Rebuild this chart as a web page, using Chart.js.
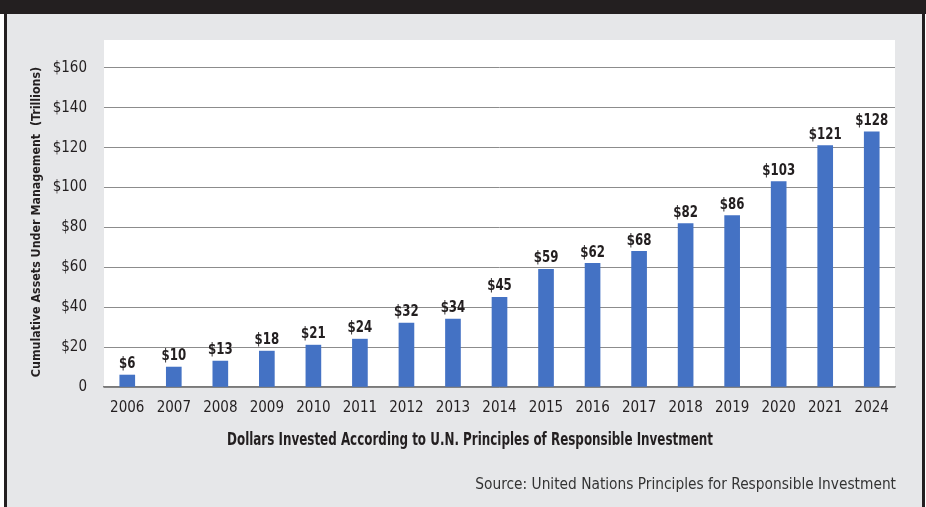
<!DOCTYPE html>
<html>
<head>
<meta charset="utf-8">
<script src="https://cdn.jsdelivr.net/npm/chart.js@4/dist/chart.umd.min.js"></script>
<style>
  body { margin: 0; background: #fff; }
  #wrap { position: relative; width: 926px; height: 507px; background: #e6e7e9; overflow: hidden; }
  .bar { position: absolute; background: #231f20; }
  canvas { position: absolute; left: 0; top: 0; }
</style>
</head>
<body>
<div id="wrap">
  <div class="bar" style="left:0;top:0;width:926px;height:14px"></div>
  <div style="position:absolute;left:0;top:14px;width:4px;height:493px;background:#fff"></div>
  <div class="bar" style="left:4px;top:14px;width:3px;height:493px"></div>
  <div class="bar" style="left:922px;top:14px;width:3px;height:493px"></div>
  <div style="position:absolute;left:925px;top:14px;width:1px;height:493px;background:#fff"></div>
  <canvas id="chart" width="926" height="507"></canvas>
</div>
<script>
// values
const years = ['2006', '2007', '2008', '2009', '2010', '2011', '2012', '2013', '2014',
  '2015', '2016', '2017', '2018', '2019', '2020', '2021', '2024'];
const assets = [6, 10, 13, 18, 21, 24, 32, 34, 45, 59, 62, 68, 82, 86, 103, 121, 128];
const yTicks = [0, 20, 40, 60, 80, 100, 120, 140, 160];

const yTitle = 'Cumulative Assets Under Management  (Trillions)';
const xTitle = 'Dollars Invested According to U.N. Principles of Responsible Investment';
const source = 'Source: United Nations Principles for Responsible Investment';

const FONT = '"DejaVu Sans Condensed", "Roboto", sans-serif';
const INK = '#231f20';

// draw text squeezed sideways, the original uses a condensed face
function squeezed(ctx, text, x, y, sx) {
  ctx.save();
  ctx.translate(x, y);
  ctx.scale(sx, 1);
  ctx.fillText(text, 0, 0);
  ctx.restore();
}

// white plot box, value labels and the titles
const extras = {
  id: 'extras',
  beforeDraw(chart) {
    const { ctx, chartArea: a } = chart;
    ctx.save();
    ctx.fillStyle = '#fff';
    ctx.fillRect(a.left, a.top, a.right - a.left, a.bottom - a.top);
    ctx.restore();
  },
  afterDatasetsDraw(chart) {
    const ctx = chart.ctx;
    const meta = chart.getDatasetMeta(0);
    ctx.save();
    ctx.fillStyle = INK;
    ctx.font = 'bold 16px ' + FONT;
    ctx.textAlign = 'center';
    ctx.textBaseline = 'bottom';
    meta.data.forEach((bar, i) => {
      squeezed(ctx, '$' + assets[i], bar.x, bar.y - 3, 0.82);
    });
    ctx.restore();
  },
  afterDraw(chart) {
    const ctx = chart.ctx;
    ctx.save();
    ctx.fillStyle = INK;
    ctx.textBaseline = 'middle';

    ctx.font = 'bold 17px ' + FONT;
    ctx.textAlign = 'center';
    squeezed(ctx, xTitle, 470, 441, 0.78);

    ctx.font = '15.3px ' + FONT;
    ctx.textAlign = 'right';
    ctx.fillStyle = '#333';
    squeezed(ctx, source, 896, 485, 1);

    ctx.fillStyle = INK;
    ctx.font = 'bold 13px ' + FONT;
    ctx.textAlign = 'center';
    ctx.translate(37, 222);
    ctx.rotate(-Math.PI / 2);
    squeezed(ctx, yTitle, 0, 0, 0.95);
    ctx.restore();
  }
};

new Chart(document.getElementById('chart'), {
  type: 'bar',
  data: {
    labels: years,
    datasets: [{
      data: assets,
      backgroundColor: '#4472c4',
      barThickness: 15
    }]
  },
  options: {
    responsive: false,
    animation: false,
    devicePixelRatio: 1,
    layout: { padding: { top: 40, right: 31, left: 0, bottom: 0 } },
    plugins: { legend: { display: false }, tooltip: { enabled: false } },
    scales: {
      x: {
        grid: { display: false },
        border: { display: true, color: '#7a7a7a', width: 1.5 },
        ticks: { color: INK, font: { family: FONT, size: 15 }, padding: 4, maxRotation: 0 },
        afterFit(scale) { scale.height = 120; }
      },
      y: {
        min: 0,
        max: 174,
        border: { display: false },
        grid: { color: '#8c8c8c', lineWidth: 1, drawTicks: false },
        ticks: {
          stepSize: 20,
          color: INK,
          padding: 17,
          font: { family: FONT, size: 15 },
          callback: v => (v === 0 ? '0' : '$' + v)
        },
        afterBuildTicks(scale) {
          scale.ticks = yTicks.map(v => ({ value: v }));
        },
        afterFit(scale) { scale.width = 104; }
      }
    }
  },
  plugins: [extras]
});
</script>
</body>
</html>
